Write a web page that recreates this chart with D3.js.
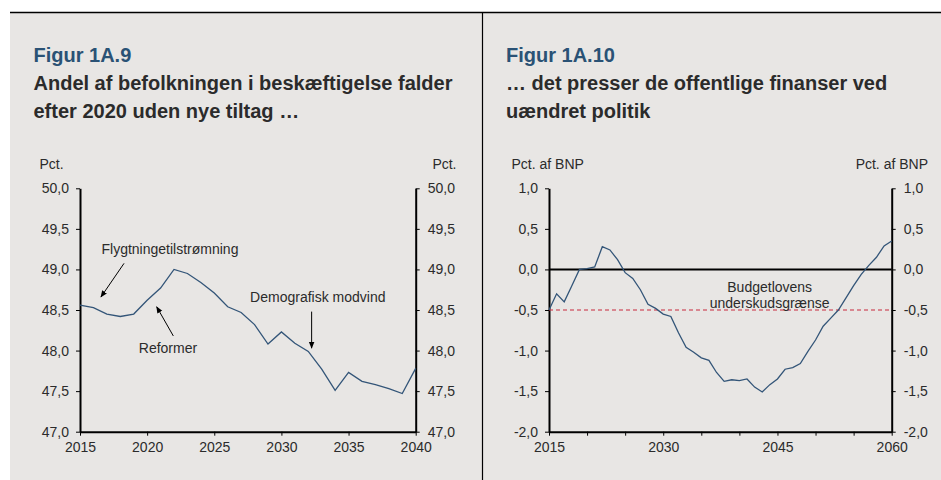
<!DOCTYPE html>
<html><head><meta charset="utf-8">
<script src="https://cdn.jsdelivr.net/npm/d3@7/dist/d3.min.js"></script>
<style>
html,body{margin:0;padding:0;background:#fff;}
svg{display:block;font-family:Arial,"Liberation Sans",sans-serif;}
</style></head><body>
<svg id="c" width="941" height="480"></svg>
<script>
// ---- Data ----
const yearsA = d3.range(2015, 2041);
const employmentShare = [48.56,48.53,48.45,48.42,48.45,48.62,48.77,49.00,48.95,48.84,48.71,48.54,48.47,48.32,48.08,48.23,48.09,47.99,47.77,47.51,47.73,47.62,47.58,47.53,47.47,47.78];
const yTicksA = [47.0,47.5,48.0,48.5,49.0,49.5,50.0];
const xTicksA = [2015,2020,2025,2030,2035,2040];

const yearsB = d3.range(2015, 2061);
const balance = [-0.50,-0.30,-0.40,-0.20,0.00,0.01,0.03,0.28,0.24,0.12,
                 -0.04,-0.11,-0.25,-0.43,-0.48,-0.55,-0.58,-0.78,-0.96,-1.02,
                 -1.09,-1.12,-1.27,-1.38,-1.36,-1.37,-1.35,-1.45,-1.51,-1.42,
                 -1.35,-1.23,-1.21,-1.16,-1.01,-0.87,-0.70,-0.60,-0.50,-0.35,
                 -0.20,-0.06,0.05,0.15,0.29,0.35];
const yTicksB = [-2.0,-1.5,-1.0,-0.5,0.0,0.5,1.0];
const xTicksB = [2015,2020,2025,2030,2035,2040,2045,2050,2055,2060];
const xLabelsB = [2015,2030,2045,2060];
const deficitLimit = -0.5;

const svg = d3.select("#c");
const BG = "#e8e6e4", LINE = "#335578", TXT = "#2b2b2b", TITLEBLUE = "#2a5275";
const fmt = d => d.toFixed(1).replace(".", ",");

// panels
svg.append("rect").attr("x",10).attr("y",12).attr("width",931).attr("height",468).attr("fill",BG);
svg.append("line").attr("x1",10).attr("x2",941).attr("y1",12.5).attr("y2",12.5).attr("stroke","#000").attr("stroke-width",1.5);
svg.append("line").attr("x1",482.5).attr("x2",482.5).attr("y1",12).attr("y2",480).attr("stroke","#000").attr("stroke-width",1.2);

const TFS = 20;
function titles(x, fig, l1, l2){
  svg.append("text").attr("x",x).attr("y",61.5).attr("fill",TITLEBLUE).attr("font-weight","bold").attr("font-size",TFS).text(fig);
  svg.append("text").attr("x",x).attr("y",90).attr("fill",TXT).attr("font-weight","bold").attr("font-size",TFS).text(l1);
  svg.append("text").attr("x",x).attr("y",117.5).attr("fill",TXT).attr("font-weight","bold").attr("font-size",TFS).text(l2);
}
titles(33.5, "Figur 1A.9", "Andel af befolkningen i beskæftigelse falder", "efter 2020 uden nye tiltag …");
titles(506, "Figur 1A.10", "… det presser de offentlige finanser ved", "uændret politik");

const FS = 14;
function styleAxis(g){
  g.select(".domain").attr("stroke","#000").attr("stroke-width",2);
  g.selectAll(".tick line").attr("stroke","#000").attr("stroke-width",1);
  g.selectAll(".tick text").attr("fill",TXT).attr("font-size",FS).attr("font-family","Arial, 'Liberation Sans', sans-serif");
}

// defs arrow
svg.append("defs").append("marker").attr("id","ah").attr("viewBox","0 0 10 10")
  .attr("refX",9).attr("refY",5).attr("markerWidth",7).attr("markerHeight",7).attr("orient","auto")
  .attr("markerUnits","userSpaceOnUse")
  .append("path").attr("d","M0,1 L10,5 L0,9 z").attr("fill","#000");

// ---- Chart A ----
{
  const x = d3.scaleLinear().domain([2015,2040]).range([80,415.7]);
  const y = d3.scaleLinear().domain([47,50]).range([431.7,188.3]);
  const gx = svg.append("g").attr("transform",`translate(0,${y(47)})`)
    .call(d3.axisBottom(x).tickValues(xTicksA).tickSize(4).tickSizeOuter(0).tickPadding(6).tickFormat(d3.format("d")));
  styleAxis(gx);
  const gl = svg.append("g").attr("transform",`translate(${x(2015)},0)`)
    .call(d3.axisLeft(y).tickValues(yTicksA).tickSize(4).tickSizeOuter(0).tickPadding(7).tickFormat(fmt));
  styleAxis(gl);
  const gr = svg.append("g").attr("transform",`translate(${x(2040)},0)`)
    .call(d3.axisRight(y).tickValues(yTicksA).tickSize(4).tickSizeOuter(0).tickPadding(8).tickFormat(fmt));
  styleAxis(gr);
  svg.append("text").attr("x",39.5).attr("y",169).attr("font-size",FS).attr("fill",TXT).text("Pct.");
  svg.append("text").attr("x",456.5).attr("y",169).attr("text-anchor","end").attr("font-size",FS).attr("fill",TXT).text("Pct.");
  svg.append("path").datum(yearsA.map((d,i)=>[d,employmentShare[i]]))
    .attr("fill","none").attr("stroke",LINE).attr("stroke-width",1.3)
    .attr("d", d3.line().x(d=>x(d[0])).y(d=>y(d[1])));
  const ann = (t, tx, ty, anchor) => svg.append("text").attr("x",x(tx)).attr("y",y(ty)).attr("dy","0.35em")
      .attr("text-anchor",anchor).attr("font-size",FS).attr("fill",TXT).text(t);
  const arrow = (x1,y1,x2,y2) => svg.append("line").attr("x1",x(x1)).attr("y1",y(y1)).attr("x2",x(x2)).attr("y2",y(y2))
      .attr("stroke","#000").attr("stroke-width",1).attr("marker-end","url(#ah)");
  ann("Flygtningetilstrømning", 2016.6, 49.25, "start");
  arrow(2018.28, 49.075, 2016.56, 48.66);
  ann("Reformer", 2021.55, 48.03, "middle");
  arrow(2021.95, 48.18, 2020.71, 48.54);
  ann("Demografisk modvind", 2032.71, 48.66, "middle");
  arrow(2032.25, 48.48, 2032.25, 48.03);
}

// ---- Chart B ----
{
  const x = d3.scaleLinear().domain([2015,2060]).range([549,891.7]);
  const y = d3.scaleLinear().domain([-2,1]).range([431.7,188.3]);
  const gx = svg.append("g").attr("transform",`translate(0,${y(-2)})`)
    .call(d3.axisBottom(x).tickValues(xTicksB).tickSize(4).tickSizeOuter(0).tickPadding(6)
      .tickFormat(d => xLabelsB.includes(d) ? String(d) : ""));
  styleAxis(gx);
  const gl = svg.append("g").attr("transform",`translate(${x(2015)},0)`)
    .call(d3.axisLeft(y).tickValues(yTicksB).tickSize(4).tickSizeOuter(0).tickPadding(7).tickFormat(fmt));
  styleAxis(gl);
  const gr = svg.append("g").attr("transform",`translate(${x(2060)},0)`)
    .call(d3.axisRight(y).tickValues(yTicksB).tickSize(4).tickSizeOuter(0).tickPadding(8).tickFormat(fmt));
  styleAxis(gr);
  svg.append("text").attr("x",511.5).attr("y",169).attr("font-size",FS).attr("fill",TXT).text("Pct. af BNP");
  svg.append("text").attr("x",928).attr("y",169).attr("text-anchor","end").attr("font-size",FS).attr("fill",TXT).text("Pct. af BNP");
  // zero line
  svg.append("line").attr("x1",x(2015)).attr("x2",x(2060)).attr("y1",y(0)).attr("y2",y(0)).attr("stroke","#000").attr("stroke-width",2);
  // deficit limit
  svg.append("line").attr("x1",x(2015)).attr("x2",x(2060)).attr("y1",y(deficitLimit)).attr("y2",y(deficitLimit))
    .attr("stroke","#c8283c").attr("stroke-width",1).attr("stroke-dasharray","4,3");
  svg.append("path").datum(yearsB.map((d,i)=>[d,balance[i]]))
    .attr("fill","none").attr("stroke",LINE).attr("stroke-width",1.3)
    .attr("d", d3.line().x(d=>x(d[0])).y(d=>y(d[1])));
  svg.append("text").attr("x",x(2043.98)).attr("y",y(-0.22)).attr("dy","0.35em").attr("text-anchor","middle")
    .attr("font-size",FS).attr("fill",TXT).text("Budgetlovens");
  svg.append("text").attr("x",x(2043.98)).attr("y",y(-0.415)).attr("dy","0.35em").attr("text-anchor","middle")
    .attr("font-size",FS).attr("fill",TXT).text("underskudsgrænse");
}
</script>
</body></html>
